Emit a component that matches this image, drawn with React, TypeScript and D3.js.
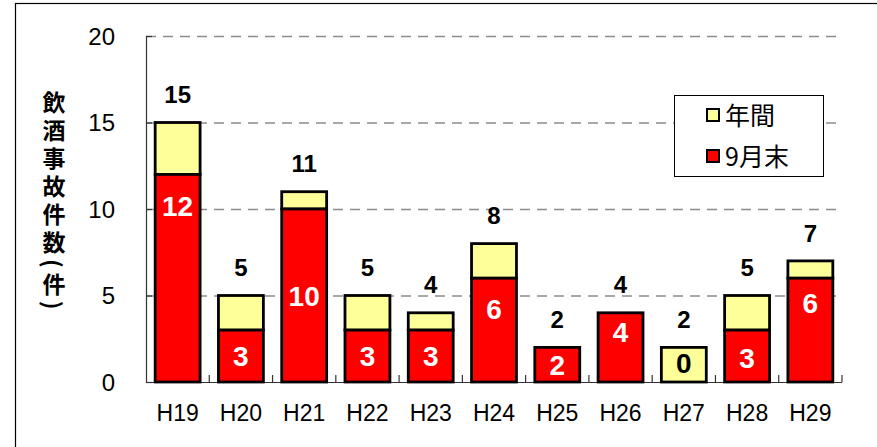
import React, { useRef, useEffect } from 'react';
import * as d3 from 'd3';

const years = ['H19', 'H20', 'H21', 'H22', 'H23', 'H24', 'H25', 'H26', 'H27', 'H28', 'H29'];
const annual = [15, 5, 11, 5, 4, 8, 2, 4, 2, 5, 7];
const endSep = [12, 3, 10, 3, 3, 6, 2, 4, 0, 3, 6];
// where the inside labels sit, in data units
const endSepLabelAt = [10.2, 1.5, 5, 1.5, 1.5, 4.2, 1.0, 2.9, 1.1, 1.4, 4.6];
const yTicks = [0, 5, 10, 15, 20];
const legendItems = [
  { name: '年間', color: '#FFFF99' },
  { name: '9月末', color: '#FF0000' },
];

const FONT = '"Liberation Sans", Arial, sans-serif';
const JP = '"Noto Sans CJK JP", sans-serif';

const App = () => {
  const svgRef = useRef<SVGSVGElement>(null);

  useEffect(() => {
    const width = 877;
    const height = 447;
    const left = 146, right = 842, top = 36, bottom = 382;

    const svg = d3.select(svgRef.current)
      .attr('width', width)
      .attr('height', height);
    svg.selectAll('*').remove();

    svg.append('rect')
      .attr('width', width).attr('height', height).attr('fill', '#fff');

    // outer frame
    svg.append('rect')
      .attr('x', 15.5).attr('y', 3.5)
      .attr('width', 1000).attr('height', 1000)
      .attr('fill', 'none').attr('stroke', '#000').attr('stroke-width', 1.2);

    const x = d3.scaleBand()
      .domain(years)
      .range([left, right])
      .paddingInner(0.29)
      .paddingOuter(0.145);

    const y = d3.scaleLinear().domain([0, 20]).range([bottom, top]);

    // gridlines
    svg.append('g')
      .selectAll('line')
      .data(yTicks.filter(d => d > 0))
      .enter().append('line')
      .attr('x1', left).attr('x2', right - 5)
      .attr('y1', d => y(d) + 0.5).attr('y2', d => y(d) + 0.5)
      .attr('stroke', '#8c8c8c')
      .attr('stroke-width', 1.5)
      .attr('stroke-dasharray', '10,7');

    // y axis
    const yAxis = svg.append('g')
      .attr('transform', `translate(${left},0)`)
      .call(d3.axisRight(y).tickValues(yTicks).tickSize(6).tickFormat(() => ''));
    yAxis.selectAll('path, line').attr('stroke', '#333').attr('stroke-width', 1.2);

    svg.append('g')
      .selectAll('text')
      .data(yTicks)
      .enter().append('text')
      .attr('x', 115)
      .attr('y', d => y(d))
      .attr('dy', '0.36em')
      .attr('text-anchor', 'end')
      .attr('font-family', FONT)
      .attr('font-size', 24)
      .text(d => d);

    // x axis
    const boundaries = d3.range(years.length + 1).map(i => left + i * x.step());
    svg.append('line')
      .attr('x1', left).attr('x2', right)
      .attr('y1', bottom + 0.5).attr('y2', bottom + 0.5)
      .attr('stroke', '#333').attr('stroke-width', 1.2);
    svg.append('g')
      .selectAll('line')
      .data(boundaries.slice(1))
      .enter().append('line')
      .attr('x1', d => d).attr('x2', d => d)
      .attr('y1', bottom - 7).attr('y2', bottom)
      .attr('stroke', '#333').attr('stroke-width', 1.2);

    svg.append('g')
      .selectAll('text')
      .data(years)
      .enter().append('text')
      .attr('x', d => (x(d) as number) + x.bandwidth() / 2)
      .attr('y', 413)
      .attr('dy', '0.36em')
      .attr('text-anchor', 'middle')
      .attr('font-family', FONT)
      .attr('font-size', 23)
      .text(d => d);

    // bars
    const bars = svg.append('g').selectAll('g')
      .data(years.map((yr, i) => ({ yr, total: annual[i], sep: endSep[i], at: endSepLabelAt[i] })))
      .enter().append('g');

    bars.append('rect')
      .attr('x', d => x(d.yr) as number)
      .attr('width', x.bandwidth())
      .attr('y', d => y(d.total))
      .attr('height', d => y(d.sep) - y(d.total))
      .attr('fill', legendItems[0].color)
      .attr('stroke', '#000').attr('stroke-width', 2.8);

    bars.filter(d => d.sep > 0).append('rect')
      .attr('x', d => x(d.yr) as number)
      .attr('width', x.bandwidth())
      .attr('y', d => y(d.sep))
      .attr('height', d => y(0) - y(d.sep))
      .attr('fill', legendItems[1].color)
      .attr('stroke', '#000').attr('stroke-width', 2.8);

    bars.append('text')
      .attr('x', d => (x(d.yr) as number) + x.bandwidth() / 2)
      .attr('y', d => y(d.total) - 28)
      .attr('dy', '0.36em')
      .attr('text-anchor', 'middle')
      .attr('font-family', FONT)
      .attr('font-weight', 'bold')
      .attr('font-size', 24)
      .text(d => d.total);

    bars.append('text')
      .attr('x', d => (x(d.yr) as number) + x.bandwidth() / 2)
      .attr('y', d => y(d.at))
      .attr('dy', '0.36em')
      .attr('text-anchor', 'middle')
      .attr('font-family', FONT)
      .attr('font-weight', 'bold')
      .attr('font-size', 28)
      .attr('fill', d => (d.sep > 0 ? '#fff' : '#000'))
      .text(d => d.sep);

    // y title
    svg.append('text')
      .attr('x', 54)
      .attr('y', 91)
      .attr('writing-mode', 'vertical-rl')
      .attr('font-family', JP)
      .attr('font-weight', 'bold')
      .attr('font-size', 23)
      .attr('letter-spacing', 5)
      .text('飲酒事故件数(件)');

    // legend
    const lg = svg.append('g');
    lg.append('rect')
      .attr('x', 674.5).attr('y', 95.5)
      .attr('width', 149).attr('height', 81)
      .attr('fill', '#fff').attr('stroke', '#000').attr('stroke-width', 1);
    const items = lg.selectAll('g.item')
      .data(legendItems)
      .enter().append('g')
      .attr('transform', (_, i) => `translate(707,${115 + i * 41})`);
    items.append('rect')
      .attr('x', 0).attr('y', -6)
      .attr('width', 12).attr('height', 12)
      .attr('fill', d => d.color)
      .attr('stroke', '#000').attr('stroke-width', 2);
    items.append('text')
      .attr('x', 18).attr('y', 1)
      .attr('dy', '0.36em')
      .attr('font-family', JP)
      .attr('font-size', 25)
      .text(d => d.name);
  }, []);

  return (
    <svg ref={svgRef} style={{ position: 'absolute', left: 0, top: 0 }}></svg>
  );
};

export default App;
